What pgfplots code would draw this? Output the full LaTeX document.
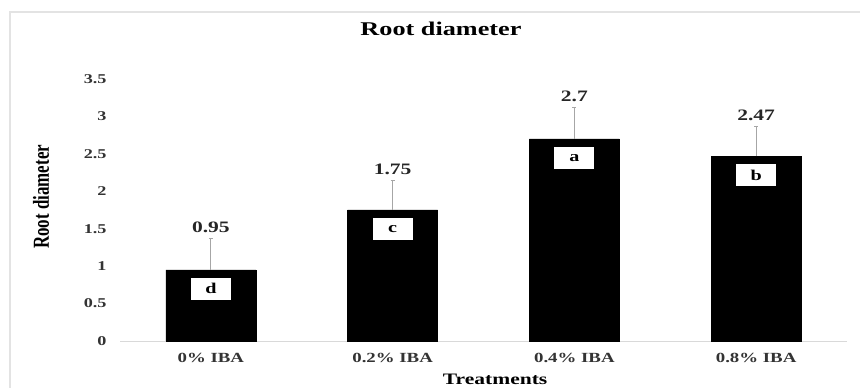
\documentclass[border=0pt]{standalone}
\usepackage{fontspec}
\setmainfont{Liberation Serif}[FakeStretch=1.35]
\newfontfamily\plainserif{Liberation Serif}
\usepackage{graphicx}
\usepackage{pgfplots}
\usepackage{pgfplotstable}
\pgfplotsset{compat=1.18}
\pgfplotstableread{
x y e lab let
0 0.95 0.42 0.95 d
1 1.75 0.40 1.75 c
2 2.70 0.42 2.7 a
3 2.47 0.40 2.47 b
}\datatable
\begin{document}
\begin{tikzpicture}
\useasboundingbox (0,0) rectangle (860bp,388bp);
\clip (0,0) rectangle (860bp,388bp);
\fill[white] (0,0) rectangle (860bp,388bp);
\draw[gray!22, line width=1.2bp] (10bp,-5bp) -- (10bp,376bp) -- (870bp,376bp);
\begin{axis}[
  at={(120bp,47bp)}, anchor=south west,
  scale only axis, width=727bp, height=262bp,
  xmin=-0.5, xmax=3.5, ymin=0, ymax=3.5,
  xtick={0,1,2,3},
  xticklabels={0\% IBA,0.2\% IBA,0.4\% IBA,0.8\% IBA},
  ytick={0,0.5,1,1.5,2,2.5,3,3.5},
  yticklabels={0,0.5,1,1.5,2,2.5,3,3.5},
  major tick length=0pt,
  axis x line*=bottom, axis y line*=left,
  x axis line style={draw=gray!30, line width=0.8bp, -},
  y axis line style={draw=none},
  /pgf/number format/assume math mode=true,
  xticklabel style={font=\bfseries\fontsize{14}{14}\selectfont, text=black!80, anchor=center, yshift=-17bp},
  yticklabel style={font=\bfseries\fontsize{13.5}{13.5}\selectfont, text=black!80, anchor=east, xshift=-10bp},
  title={Root diameter},
  title style={at={(axis description cs:0.4415,1.168)}, anchor=center, font=\bfseries\fontsize{19.5}{19.5}\selectfont},
  xlabel={Treatments},
  xlabel style={at={(axis description cs:0.516,-0.148)}, anchor=center, font=\bfseries\fontsize{16}{16}\selectfont},
  ylabel={\plainserif\bfseries\fontsize{17}{17}\selectfont\scalebox{1}[1.35]{Root diameter}},
  ylabel style={at={(axis description cs:-0.1087,0.55)}, anchor=center},
  clip=false,
]
\addplot[ybar, bar width=90bp, fill=black, draw=black,
  error bars/.cd, y dir=plus, y explicit,
  error bar style={gray!70, line width=0.8bp},
  error mark options={rotate=90, gray!70, mark size=2bp}]
  table[x=x, y=y, y error=e] {\datatable};
\addplot[draw=none, mark=none, nodes near coords, point meta=explicit symbolic,
  every node near coord/.append style={anchor=center, yshift=11bp, text=black!85, font=\bfseries\fontsize{16}{16}\selectfont}]
  table[x=x, y expr=\thisrow{y}+\thisrow{e}, meta=lab] {\datatable};
\addplot[draw=none, mark=none, nodes near coords, point meta=explicit symbolic,
  every node near coord/.append style={anchor=center, yshift=-19bp, fill=white, minimum width=40bp, minimum height=22bp, inner sep=0pt, text=black, font=\bfseries\fontsize{15}{15}\selectfont}]
  table[x=x, y=y, meta=let] {\datatable};
\end{axis}
\end{tikzpicture}
\end{document}
